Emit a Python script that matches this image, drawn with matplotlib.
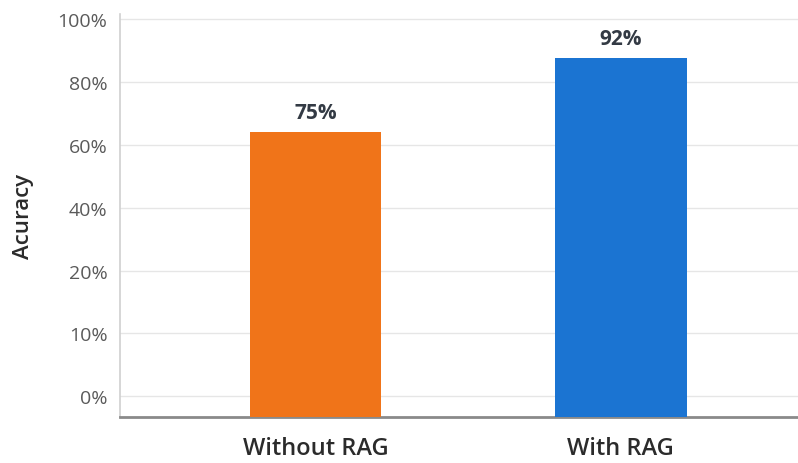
import matplotlib
matplotlib.use("Agg")
import matplotlib.pyplot as plt

categories = ["Without RAG", "With RAG"]
value_labels = ["75%", "92%"]
# bar top positions read on the chart's (non-linear) tick scale, in tick-slot units
bar_heights = [4.20, 5.38]
tick_labels = ["0%", "10%", "20%", "40%", "60%", "80%", "100%"]
colors = ["#F07419", "#1B74D2"]

plt.rcParams['font.family'] = ['Open Sans', 'DejaVu Sans']

BASE = -0.33
fig = plt.figure(figsize=(7.98, 4.64), dpi=100)
ax = fig.add_axes([120/798, (464-418)/464, (798-120)/798, (418-15)/464])

x = list(range(len(categories)))
ax.bar(x, [h - BASE for h in bar_heights], width=0.43, color=colors,
       bottom=BASE, zorder=3)
for xi, h, lab in zip(x, bar_heights, value_labels):
    ax.text(xi, h + 0.15, lab, ha='center', va='bottom',
            fontsize=15, fontweight='bold', color='#333a44')

ax.set_xlim(-0.64, 1.58)
ax.set_ylim(BASE, 6.08)
ax.set_yticks(range(len(tick_labels)))
ax.set_yticklabels(tick_labels)
ax.set_xticks(x)
ax.set_xticklabels(categories, fontweight=600)
ax.tick_params(axis='y', length=0, pad=9, labelsize=14, labelcolor='#5a5a5a')
ax.tick_params(axis='x', length=0, pad=14, labelsize=17, labelcolor='#2b2b2b')
ax.grid(axis='y', color='#e6e6e6', linewidth=1, zorder=0)
ax.set_axisbelow(True)
for s in ['top', 'right']:
    ax.spines[s].set_visible(False)
ax.spines['left'].set_color('#d0d0d0')
ax.spines['left'].set_linewidth(1.2)
ax.spines['bottom'].set_color('#8a8a8a')
ax.spines['bottom'].set_linewidth(2)
ax.set_ylabel("Acuracy", fontsize=16, fontweight=600, color='#2b2b2b')
ax.yaxis.set_label_coords(-(120 - 34) / 678, 0.5)

fig.savefig("out.png", dpi=100, facecolor='white')
